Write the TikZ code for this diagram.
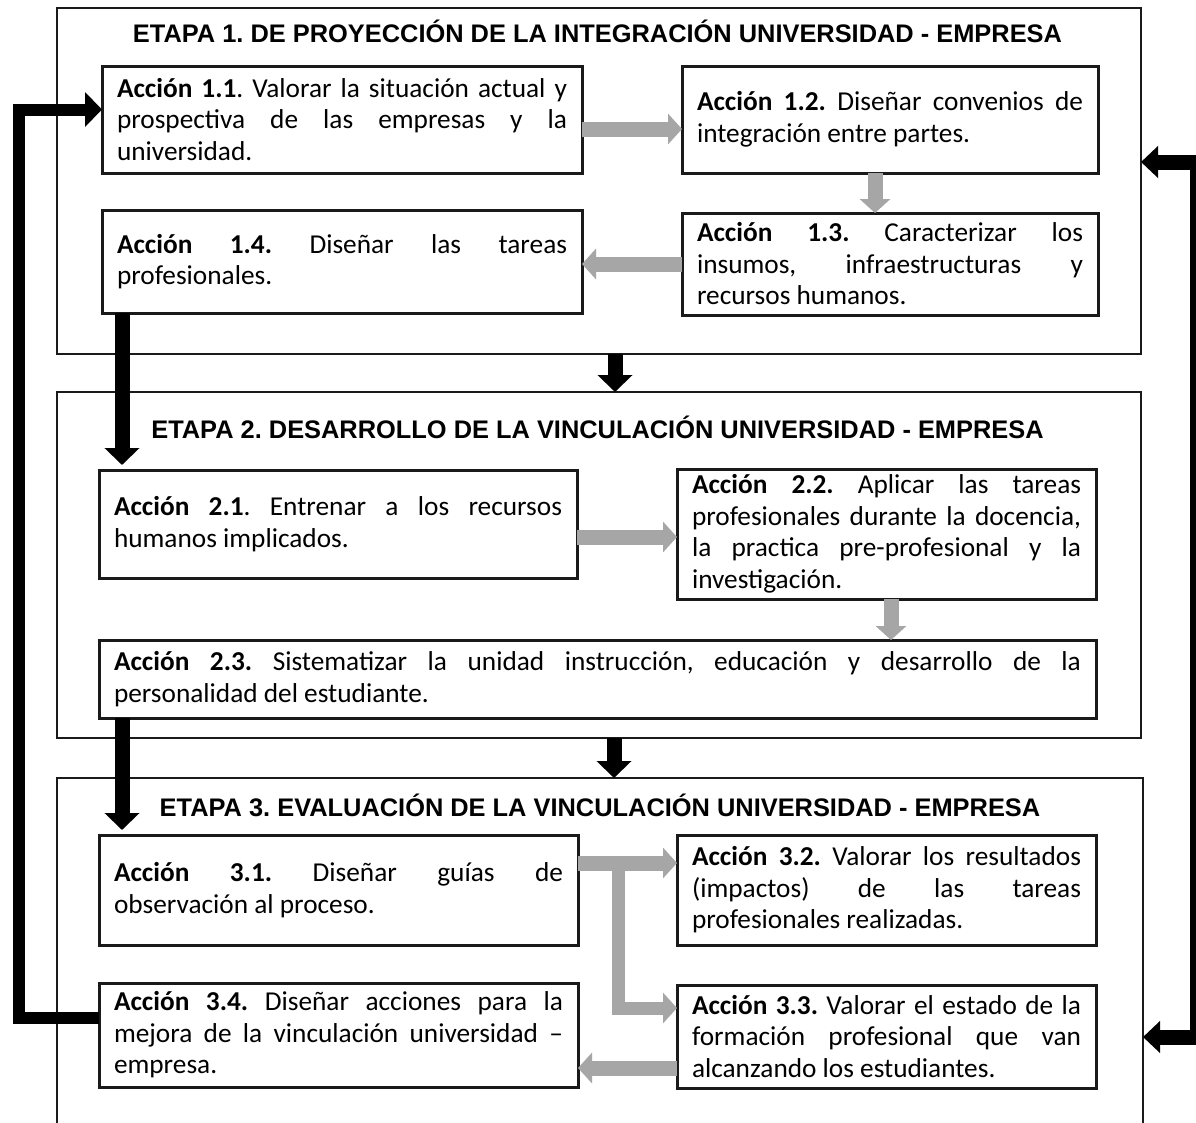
\documentclass[tikz,border=0pt]{standalone}
\usepackage{fontspec}
\setmainfont{Carlito}
\newfontfamily\ttlfamily{Liberation Sans}
\usetikzlibrary{arrows.meta,calc}
\definecolor{arrgray}{HTML}{A6A6A6}
\definecolor{lineblk}{HTML}{1A1A1A}
\newcommand\bxfont{\frenchspacing\fontsize{27.3}{31.5}\selectfont}
\newcommand\ttlfont{\frenchspacing\ttlfamily\bfseries\fontsize{25.4}{30}\selectfont}
\begin{document}
\frenchspacing
\hyphenpenalty=10000 \exhyphenpenalty=10000 \tolerance=10000 \pretolerance=-1
\begin{tikzpicture}[x=1pt,y=-1pt,
  frame/.style={draw=lineblk, line width=2.5pt, inner sep=0pt, outer sep=0pt, anchor=north west},
  box/.style={draw=lineblk, line width=3pt, fill=white, inner xsep=15pt, inner ysep=0pt, outer sep=0pt, anchor=north west, align=justify, font=\bxfont},
  title/.style={font=\ttlfont, inner sep=0pt},
  garrow/.style={draw=arrgray, line width=15pt, -{Triangle[width=30pt,length=14pt]}},
  barrow/.style={draw=black, line width=15pt, -{Triangle[width=34pt,length=17pt]}},
  bline/.style={draw=black, line width=12pt, line join=miter}
]
\clip (0,0) rectangle (1196,1122);
\fill[white] (0,0) rectangle (1196,1122);

% stage frames
\node[frame, minimum width=1084pt, minimum height=346pt] (e1) at (57,8) {};
\node[frame, minimum width=1084pt, minimum height=346pt] (e2) at (57,392) {};
\node[frame, draw=none, minimum width=1086pt, minimum height=344pt] (e3) at (57,778) {};
\draw[lineblk, line width=2.5pt] ([yshift=-10pt]e3.south west) -- (e3.north west) -- (e3.north east) -- ([yshift=-10pt]e3.south east);

% titles
\node[title] (t1) at (597.5,31) {ETAPA 1. DE PROYECCIÓN DE LA INTEGRACIÓN UNIVERSIDAD - EMPRESA};
\node[title] (t2) at (597.5,427) {ETAPA 2. DESARROLLO DE LA VINCULACIÓN UNIVERSIDAD - EMPRESA};
\node[title] (t3) at (600,805) {ETAPA 3. EVALUACIÓN DE LA VINCULACIÓN UNIVERSIDAD - EMPRESA};

% stage 1 boxes
\node[box, text width=450pt, minimum height=107pt] (b11) at (102,66)
  {\textbf{Acción 1.1}. Valorar la situación actual y\linebreak prospectiva de las empresas y la\linebreak universidad.};
\node[box, text width=386pt, minimum height=107pt] (b12) at (682,66)
  {\textbf{Acción 1.2.} Diseñar convenios de\linebreak integración entre partes.};
\node[box, text width=386pt, minimum height=102pt] (b13) at (682,213)
  {\textbf{Acción 1.3.} Caracterizar los\linebreak insumos, infraestructuras y\linebreak recursos humanos.};
\node[box, text width=450pt, minimum height=103pt] (b14) at (102,210)
  {\textbf{Acción 1.4.} Diseñar las tareas\linebreak profesionales.};

% stage 2 boxes
\node[box, text width=448pt, minimum height=108pt] (b21) at (99,470)
  {\textbf{Acción 2.1}. Entrenar a los recursos\linebreak humanos implicados.};
\node[box, text width=389pt, minimum height=130pt] (b22) at (677,469)
  {\textbf{Acción 2.2.} Aplicar las tareas\linebreak profesionales durante la docencia,\linebreak la practica pre-profesional y la\linebreak investigación.};
\node[box, text width=967pt, minimum height=78pt] (b23) at (99,640)
  {\textbf{Acción 2.3.} Sistematizar la unidad instrucción, educación y desarrollo de la\linebreak personalidad del estudiante.};

% stage 3 boxes
\node[box, text width=449pt, minimum height=110pt] (b31) at (99,835)
  {\textbf{Acción 3.1.} Diseñar guías de\linebreak observación al proceso.};
\node[box, text width=389pt, minimum height=110pt] (b32) at (677,835)
  {\textbf{Acción 3.2.} Valorar los resultados\linebreak (impactos) de las tareas\linebreak profesionales realizadas.};
\node[box, text width=389pt, minimum height=103pt] (b33) at (677,985)
  {\textbf{Acción 3.3.} Valorar el estado de la\linebreak formación profesional que van\linebreak alcanzando los estudiantes.};
\node[box, text width=449pt, minimum height=104pt] (b34) at (99,983)
  {\textbf{Acción 3.4.} Diseñar acciones para la\linebreak mejora de la vinculación universidad –\linebreak empresa.};

% gray arrows
\draw[garrow] ([yshift=-9.5pt]b11.east) -- ([yshift=-9.5pt]b11.east -| b12.west);
\draw[garrow] ([xshift=-15pt]b12.south) -- ([xshift=-15pt]b12.south |- b13.north);
\draw[garrow] (b13.west) -- (b13.west -| b14.east);
\draw[garrow] ([yshift=-13pt]b21.east) -- ([yshift=-13pt]b21.east -| b22.west);
\draw[garrow] ([xshift=4.5pt]b22.south) -- ([xshift=4.5pt]b22.south |- b23.north);
\draw[garrow] ([yshift=27pt]b31.east) -- ([yshift=27pt]b31.east -| b32.west);
\coordinate (br) at (618,863);
\draw[garrow, line width=13pt] (br) |- ([yshift=28.5pt]b33.west);
\draw[garrow] ([yshift=-31.5pt]b33.west) -- ([yshift=-31.5pt]b33.west -| b34.east);

% black arrows
\draw[barrow] ([xshift=16pt]e1.south) -- ([xshift=16pt]e1.south |- e2.north);
\draw[barrow] ([xshift=15pt]e2.south) -- ([xshift=15pt]e2.south |- e3.north);
\draw[barrow, shorten >=5pt] ([xshift=20pt]b14.south west) -- ([xshift=20pt]b14.south west |- b21.north);
\draw[barrow, shorten >=5pt] ([xshift=23pt]b23.south west) -- ([xshift=23pt]b23.south west |- b31.north);
\draw[bline, -{Triangle[width=34pt,length=17pt]}] ([yshift=17pt]b34.west) -- ++(-80,0) |- ([yshift=10pt]b11.west);
\draw[bline, line width=15pt, {Triangle[width=31pt,length=17pt]}-{Triangle[width=31pt,length=17pt]}]
  ([yshift=19pt]e1.east) -- ++(56,0) |- ([yshift=-87pt]e3.east);
\end{tikzpicture}
\end{document}
